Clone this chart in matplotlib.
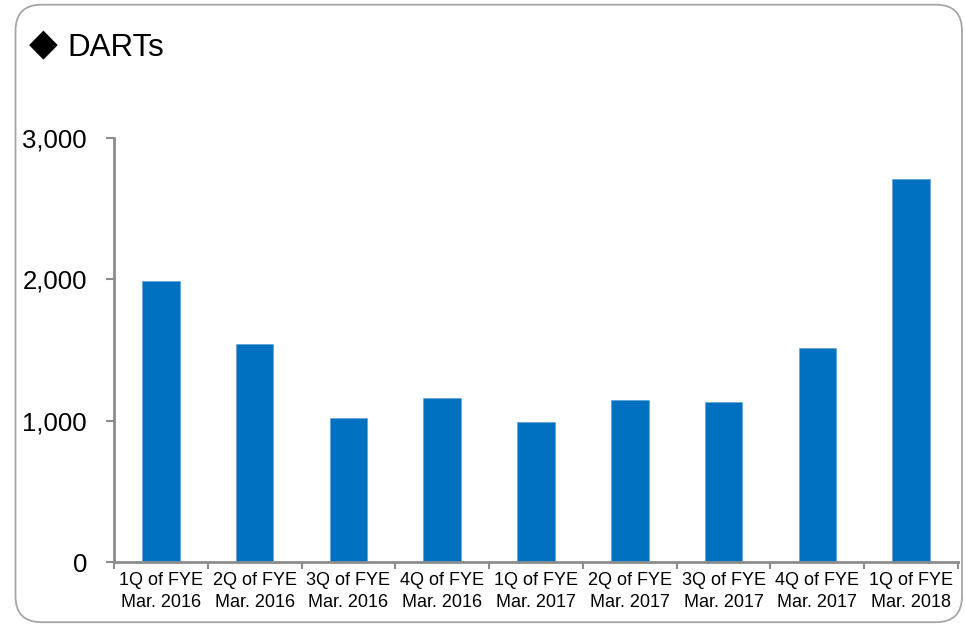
import matplotlib
matplotlib.use("Agg")
import matplotlib.pyplot as plt
from matplotlib.patches import FancyBboxPatch
from matplotlib.ticker import FuncFormatter, FixedLocator

categories = ["1Q of FYE\nMar. 2016", "2Q of FYE\nMar. 2016", "3Q of FYE\nMar. 2016",
              "4Q of FYE\nMar. 2016", "1Q of FYE\nMar. 2017", "2Q of FYE\nMar. 2017",
              "3Q of FYE\nMar. 2017", "4Q of FYE\nMar. 2017", "1Q of FYE\nMar. 2018"]
values = [1990, 1540, 1020, 1160, 993, 1146, 1132, 1514, 2710]
yticks = [0, 1000, 2000, 3000]
title_mark = "◆"
title = "DARTs"

plt.rcParams['font.family'] = ['Liberation Sans', 'DejaVu Sans']

W, H = 965, 624
fig = plt.figure(figsize=(W / 100, H / 100), dpi=100)
fig.patch.set_facecolor("white")

# rounded border
border = FancyBboxPatch((15.5, 1.8), 946.5, 617.5,
                        boxstyle="round,pad=0,rounding_size=26",
                        transform=None, facecolor="none",
                        edgecolor="#A6A6A6", linewidth=1.3)
fig.patches.append(border)

ax = fig.add_axes([114 / W, 1 - 562 / H, (958 - 114) / W, (562 - 138) / H])
x = list(range(len(categories)))
ax.bar(x, values, width=0.4, color="#0070C0", edgecolor="#5B9BD5", linewidth=0.4)
ax.set_xlim(-0.5, len(categories) - 0.5)
ax.set_ylim(0, 3000)

for s in ["top", "right"]:
    ax.spines[s].set_visible(False)
for s in ["left", "bottom"]:
    ax.spines[s].set_color("#8C8C8C")
    ax.spines[s].set_linewidth(2.0)

ax.yaxis.set_major_locator(FixedLocator(yticks))
ax.yaxis.set_major_formatter(FuncFormatter(lambda v, p: f"{int(v):,}"))
ax.tick_params(axis="y", length=5.5, width=1.5, color="#8C8C8C", labelsize=18.5, pad=14)

ax.set_xticks(x)
ax.set_xticklabels(categories, fontsize=13, linespacing=1.4)
ax.set_xticks([i - 0.5 for i in range(len(categories) + 1)], minor=True)
ax.tick_params(axis="x", which="major", length=0, pad=7)
ax.tick_params(axis="x", which="minor", length=5, width=1.5, color="#8C8C8C")

fig.text(29 / W, 1 - 45 / H, title_mark, fontsize=27, ha="left", va="center",
         color="black", family="DejaVu Sans")
fig.text(67 / W, 1 - 56 / H, title, fontsize=22.5, ha="left", va="baseline", color="black")

fig.savefig("out.png", dpi=100)
